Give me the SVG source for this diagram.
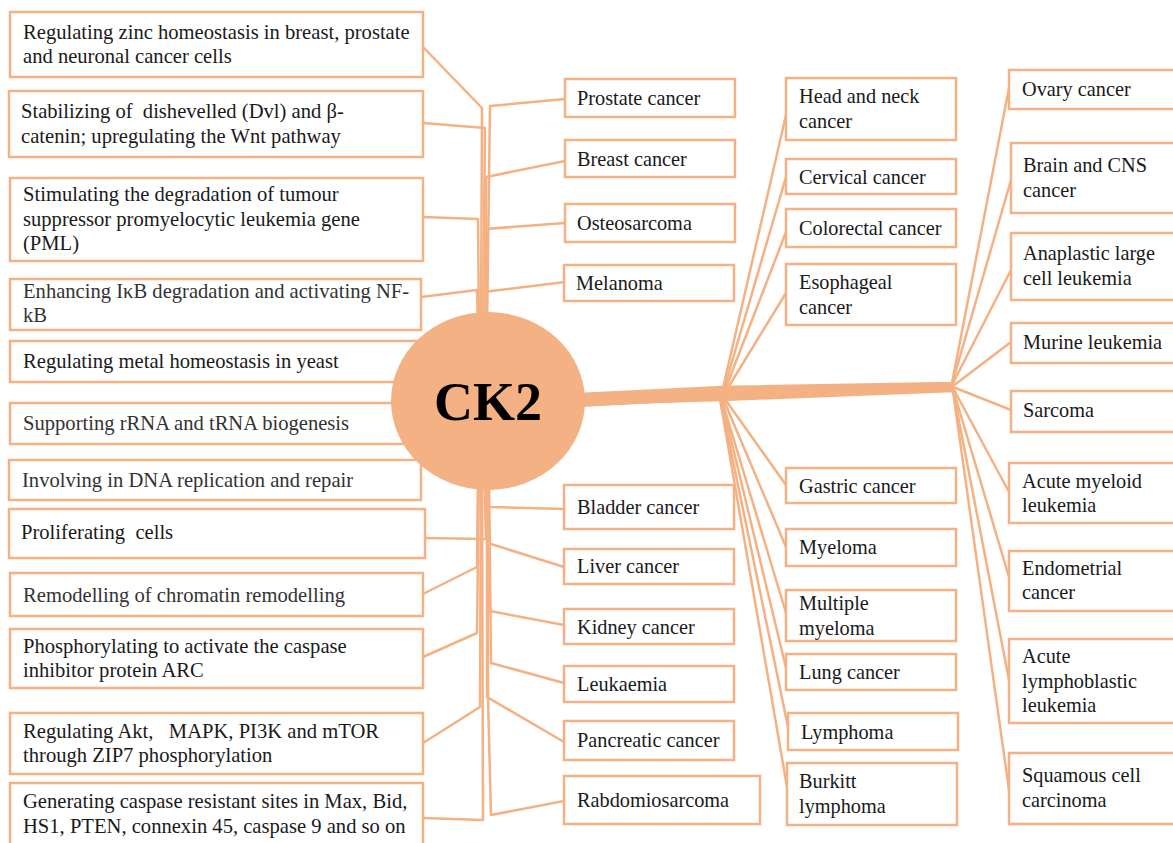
<svg xmlns="http://www.w3.org/2000/svg" width="1173" height="843" viewBox="0 0 1173 843">
<style>
.box{fill:#fff;stroke:#F4B183;stroke-width:2.5}
.t{font-family:"Liberation Serif","Times New Roman",serif;font-size:20.3px;fill:#1a1a1a}
.l{font-size:20.6px}
.g{fill:#333}
.c{fill:none;stroke:#F4B183;stroke-width:2.5;stroke-linejoin:round}
.hub{fill:#F4B183}
.hubt{font-family:"Liberation Serif","Times New Roman",serif;font-size:54px;font-weight:bold;fill:#000;text-anchor:middle}
</style>
<rect width="1173" height="843" fill="#fff"/>
<g id="connectors" class="c">
<path d="M481,330 L482,108 L423,47"/>
<path d="M483,330 L485,128 L423,123"/>
<path d="M487,330 L490,106 L565,99"/>
<path d="M479,330 L478,219 L423,217"/>
<path d="M486,330 L486,177 L565,161"/>
<path d="M486,330 L485,229 L565,223"/>
<path d="M478,330 L477,290 L421,297"/>
<path d="M484,330 L483,292 L565,282"/>
<path d="M486,470 L488,507 L564,509"/>
<path d="M484,470 L486,539 L425,538"/>
<path d="M487,470 L488,543 L564,567"/>
<path d="M478,470 L477,567 L423,594"/>
<path d="M488,470 L490,611 L564,625"/>
<path d="M479,470 L477,633 L423,657"/>
<path d="M489,470 L491,663 L564,683"/>
<path d="M481,470 L480,707 L423,743"/>
<path d="M487,470 L487,697 L564,742"/>
<path d="M482,470 L483,820 L423,818"/>
<path d="M488,470 L488,697 L491,815 L564,801"/>
<path d="M540,398 L723,388 L786,115"/>
<path d="M540,400 L724,389 L786,177"/>
<path d="M540,402 L725,390 L786,232"/>
<path d="M540,404 L726,391 L786,293"/>
<path d="M540,406 L722,395 L786,485"/>
<path d="M540,405 L722,396 L786,547"/>
<path d="M540,403 L721,397 L786,613"/>
<path d="M540,401 L721,398 L786,668"/>
<path d="M540,399 L720,398 L788,727"/>
<path d="M540,397 L720,399 L787,787"/>
<path d="M540,396 L722,387 L952,383 L1009,88"/>
<path d="M540,398 L722,389 L952,384 L1011,180"/>
<path d="M540,400 L722,391 L952,385 L1011,270"/>
<path d="M540,402 L722,393 L953,386 L1011,342"/>
<path d="M540,404 L722,395 L953,387 L1011,410"/>
<path d="M540,406 L722,397 L953,388 L1009,492"/>
<path d="M540,408 L722,398 L953,389 L1009,577"/>
<path d="M540,407 L722,399 L953,390 L1009,680"/>
<path d="M540,405 L722,400 L953,391 L1009,790"/>
</g>
<g id="f1"><rect class="box" x="10" y="12" width="413" height="65"/><text class="t l" x="23" y="39">Regulating zinc homeostasis in breast, prostate</text><text class="t l" x="23" y="63">and neuronal cancer cells</text></g>
<g id="f2"><rect class="box" x="9" y="91" width="414" height="66"/><text class="t l" x="21" y="118" xml:space="preserve">Stabilizing of  dishevelled (Dvl) and β-</text><text class="t l" x="21" y="143">catenin; upregulating the Wnt pathway</text></g>
<g id="f3"><rect class="box" x="10" y="178" width="413" height="83"/><text class="t l" x="23" y="201">Stimulating the degradation of tumour</text><text class="t l" x="23" y="226">suppressor promyelocytic leukemia gene</text><text class="t l" x="23" y="250">(PML)</text></g>
<g id="f4"><rect class="box" x="10" y="279" width="411" height="51"/><text class="t l g" x="23" y="298">Enhancing IκB degradation and activating NF-</text><text class="t l g" x="23" y="322">kB</text></g>
<g id="f5"><rect class="box" x="10" y="341" width="413" height="41"/><text class="t l" x="23" y="368">Regulating metal homeostasis in yeast</text></g>
<g id="f6"><rect class="box" x="10" y="403" width="413" height="41"/><text class="t l g" x="23" y="430">Supporting rRNA and tRNA biogenesis</text></g>
<g id="f7"><rect class="box" x="9" y="460" width="412" height="40"/><text class="t l g" x="22" y="487">Involving in DNA replication and repair</text></g>
<g id="f8"><rect class="box" x="9" y="509" width="416" height="49"/><text class="t l" x="21" y="539" xml:space="preserve">Proliferating  cells</text></g>
<g id="f9"><rect class="box" x="10" y="573" width="413" height="43"/><text class="t l g" x="23" y="602">Remodelling of chromatin remodelling</text></g>
<g id="f10"><rect class="box" x="10" y="629" width="413" height="59"/><text class="t l" x="23" y="653">Phosphorylating to activate the caspase</text><text class="t l" x="23" y="677">inhibitor protein ARC</text></g>
<g id="f11"><rect class="box" x="10" y="713" width="413" height="61"/><text class="t l" x="23" y="738" xml:space="preserve">Regulating Akt,   MAPK, PI3K and mTOR</text><text class="t l" x="23" y="762">through ZIP7 phosphorylation</text></g>
<g id="f12"><rect class="box" x="10" y="783" width="413" height="70"/><text class="t l" x="23" y="808">Generating caspase resistant sites in Max, Bid,</text><text class="t l" x="23" y="833">HS1, PTEN, connexin 45, caspase 9 and so on</text></g>
<g id="ck2"><ellipse class="hub" cx="488" cy="401" rx="97" ry="89"/><text class="hubt" x="488" y="420">CK2</text></g>
<g id="prostate"><rect class="box" x="565" y="79" width="170" height="38"/><text class="t" x="577" y="105">Prostate cancer</text></g>
<g id="breast"><rect class="box" x="565" y="140" width="170" height="37"/><text class="t" x="577" y="166">Breast cancer</text></g>
<g id="osteo"><rect class="box" x="565" y="204" width="170" height="38"/><text class="t" x="577" y="230">Osteosarcoma</text></g>
<g id="melanoma"><rect class="box" x="564" y="265" width="170" height="36"/><text class="t" x="576" y="290">Melanoma</text></g>
<g id="bladder"><rect class="box" x="564" y="485" width="170" height="44"/><text class="t" x="577" y="514">Bladder cancer</text></g>
<g id="liver"><rect class="box" x="564" y="549" width="170" height="35"/><text class="t" x="577" y="573">Liver cancer</text></g>
<g id="kidney"><rect class="box" x="564" y="609" width="170" height="35"/><text class="t" x="577" y="634">Kidney cancer</text></g>
<g id="leuk"><rect class="box" x="564" y="666" width="170" height="36"/><text class="t" x="577" y="691">Leukaemia</text></g>
<g id="pancreatic"><rect class="box" x="564" y="721" width="170" height="39"/><text class="t" x="577" y="747">Pancreatic cancer</text></g>
<g id="rabdo"><rect class="box" x="564" y="776" width="196" height="48"/><text class="t" x="577" y="807">Rabdomiosarcoma</text></g>
<g id="headneck"><rect class="box" x="786" y="78" width="170" height="62"/><text class="t" x="799" y="103">Head and neck</text><text class="t" x="799" y="128">cancer</text></g>
<g id="cervical"><rect class="box" x="786" y="159" width="170" height="35"/><text class="t" x="799" y="184">Cervical cancer</text></g>
<g id="colorectal"><rect class="box" x="786" y="209" width="170" height="38"/><text class="t" x="799" y="235">Colorectal cancer</text></g>
<g id="esophageal"><rect class="box" x="786" y="264" width="170" height="61"/><text class="t" x="799" y="289">Esophageal</text><text class="t" x="799" y="314">cancer</text></g>
<g id="gastric"><rect class="box" x="786" y="468" width="170" height="35"/><text class="t" x="799" y="493">Gastric cancer</text></g>
<g id="myeloma"><rect class="box" x="786" y="529" width="170" height="37"/><text class="t" x="799" y="554">Myeloma</text></g>
<g id="multiple"><rect class="box" x="786" y="590" width="170" height="51"/><text class="t" x="799" y="610">Multiple</text><text class="t" x="799" y="635">myeloma</text></g>
<g id="lung"><rect class="box" x="786" y="654" width="170" height="36"/><text class="t" x="799" y="679">Lung cancer</text></g>
<g id="lymphoma"><rect class="box" x="788" y="713" width="170" height="37"/><text class="t" x="801" y="739">Lymphoma</text></g>
<g id="burkitt"><rect class="box" x="787" y="763" width="170" height="62"/><text class="t" x="799" y="788">Burkitt</text><text class="t" x="799" y="813">lymphoma</text></g>
<g id="ovary"><rect class="box" x="1009" y="70" width="175" height="39"/><text class="t" x="1022" y="96">Ovary cancer</text></g>
<g id="brain"><rect class="box" x="1011" y="143" width="175" height="70"/><text class="t" x="1023" y="172">Brain and CNS</text><text class="t" x="1023" y="197">cancer</text></g>
<g id="anaplastic"><rect class="box" x="1011" y="233" width="175" height="67"/><text class="t" x="1023" y="260">Anaplastic large</text><text class="t" x="1023" y="285">cell leukemia</text></g>
<g id="murine"><rect class="box" x="1011" y="323" width="175" height="40"/><text class="t" x="1023" y="349">Murine leukemia</text></g>
<g id="sarcoma"><rect class="box" x="1011" y="391" width="175" height="41"/><text class="t" x="1023" y="417">Sarcoma</text></g>
<g id="aml"><rect class="box" x="1009" y="463" width="175" height="60"/><text class="t" x="1022" y="488">Acute myeloid</text><text class="t" x="1022" y="512">leukemia</text></g>
<g id="endometrial"><rect class="box" x="1009" y="551" width="175" height="60"/><text class="t" x="1022" y="575">Endometrial</text><text class="t" x="1022" y="599">cancer</text></g>
<g id="all"><rect class="box" x="1009" y="639" width="175" height="84"/><text class="t" x="1022" y="663">Acute</text><text class="t" x="1022" y="688">lymphoblastic</text><text class="t" x="1022" y="712">leukemia</text></g>
<g id="squamous"><rect class="box" x="1009" y="753" width="175" height="71"/><text class="t" x="1022" y="782">Squamous cell</text><text class="t" x="1022" y="807">carcinoma</text></g>
</svg>
